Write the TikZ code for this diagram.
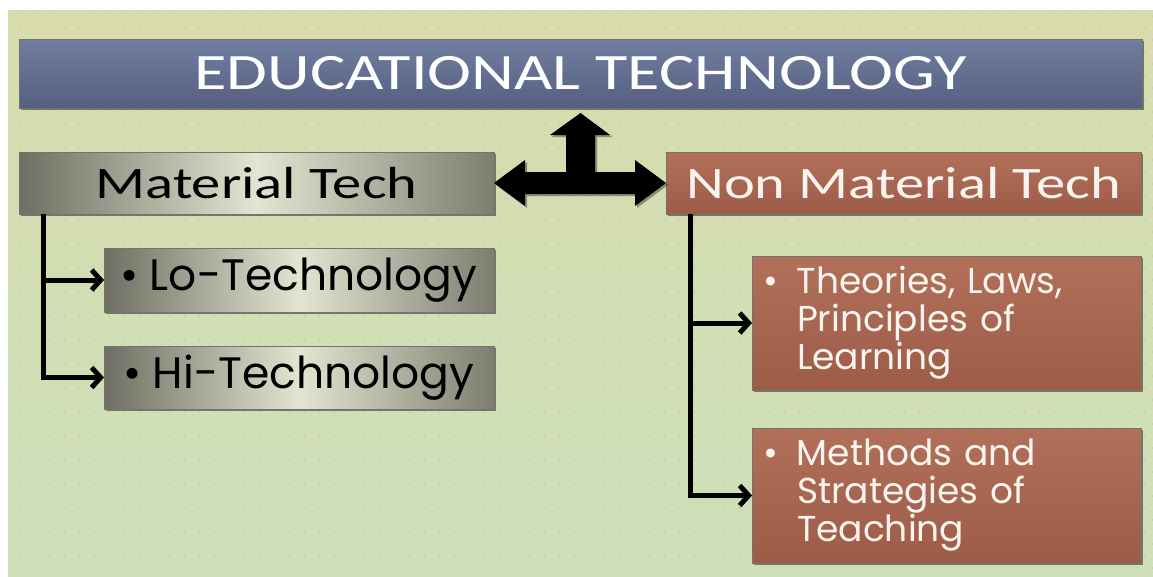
\documentclass[tikz,border=0pt]{standalone}
\usepackage{fontspec}
\newfontfamily\carl[FakeStretch=1.3]{Carlito}
\newfontfamily\popp{Poppins}
\usetikzlibrary{arrows.meta,shadows,calc}
\definecolor{bgtop}{RGB}{216,219,172}
\definecolor{bgbot}{RGB}{205,224,186}
\definecolor{dotc}{RGB}{194,199,160}
\definecolor{titletop}{RGB}{114,126,160}
\definecolor{titlebot}{RGB}{84,95,130}
\definecolor{grayL}{RGB}{110,111,98}
\definecolor{grayM}{RGB}{228,228,210}
\definecolor{grayR}{RGB}{126,126,112}
\definecolor{brownT}{RGB}{178,112,90}
\definecolor{brownB}{RGB}{156,92,72}
\definecolor{txtlight}{RGB}{250,244,238}
\begin{document}
\begin{tikzpicture}[x=1pt,y=-1pt,
  box/.style={draw=black!55, line width=0.8pt, inner sep=0pt, outer sep=0pt,
    drop shadow={shadow xshift=2pt,shadow yshift=-2pt,opacity=0.45,fill=black}},
  titlebox/.style={box, top color=titletop, bottom color=titlebot, text=white,
    font=\carl\fontsize{51}{51}\selectfont},
  graybox/.style={box, left color=grayL, right color=grayR, middle color=grayM, text=black},
  brownbox/.style={box, top color=brownT, bottom color=brownB, text=txtlight},
  headtxt/.style={font=\carl\fontsize{45}{45}\selectfont},
  bultxt/.style={font=\popp\fontsize{44}{44}\selectfont},
  multitxt/.style={font=\popp\fontsize{36}{38}\selectfont, align=left, inner xsep=11pt},
  conn/.style={line width=5pt, -{Straight Barb[length=9pt,width=20pt]}},
  bigarrow/.style={fill=black, drop shadow={shadow xshift=2pt,shadow yshift=-2pt,opacity=0.35,fill=black}}
]
\useasboundingbox (0,0) rectangle (1153,576);
\fill[white] (0,0) rectangle (1153,576);
\shade[top color=bgtop,bottom color=bgbot] (8,10) rectangle (1153,576);
\foreach \j in {0,...,46} {
  \foreach \i in {0,...,76} {
    \fill[dotc] ({12+\i*15+mod(\j,2)*7.5},{16+\j*12}) circle (0.9);
  }
}

\node[titlebox, minimum width=1123pt, minimum height=69pt] (title) at (580.5,73.5) {EDUCATIONAL TECHNOLOGY};
\node[graybox, headtxt, minimum width=475pt, minimum height=62pt] (mat) at (256.5,183) {Material Tech};
\node[brownbox, headtxt, minimum width=475pt, minimum height=62pt] (nonmat) at (903.5,183) {Non Material Tech};
\node[graybox, bultxt, minimum width=390pt, minimum height=64pt] (lo) at (299,280) {\textbullet\hspace{11pt}Lo-Technology};
\node[graybox, bultxt, minimum width=390pt, minimum height=63pt] (hi) at (299,377.5) {\textbullet\hspace{11pt}Hi-Technology};
\node[brownbox, multitxt, minimum width=389pt, minimum height=134pt, text width=367pt] (th) at (946.5,323)
  {\makebox[34pt][l]{\textbullet}Theories, Laws,\\\hspace*{34pt}Principles of\\\hspace*{34pt}Learning};
\node[brownbox, multitxt, minimum width=389pt, minimum height=135pt, text width=367pt] (me) at (946.5,495.5)
  {\makebox[34pt][l]{\textbullet}Methods and\\\hspace*{34pt}Strategies of\\\hspace*{34pt}Teaching};

\draw[conn] ($(mat.south west)+(24,0)$) |- (lo.west);
\draw[conn] ($(mat.south west)+(24,0)$) |- (hi.west);
\draw[conn] ($(nonmat.south west)+(24,0)$) |- (th.west);
\draw[conn] ($(nonmat.south west)+(24,0)$) |- (me.west);

\coordinate (L) at (mat.east);
\coordinate (R) at (nonmat.west);
\coordinate (U) at ($(title.south)+(0,5)$);
\fill[bigarrow] (L) -- ($(L)+(31,-23)$) -- ($(L)+(31,-11)$) -- ($(U)+(-14.5,59)$)
  -- ($(U)+(-14.5,22)$) -- ($(U)+(-30.5,22)$) -- (U) -- ($(U)+(29.5,22)$)
  -- ($(U)+(14.5,22)$) -- ($(U)+(14.5,59)$) -- ($(R)+(-31,-11)$) -- ($(R)+(-31,-23)$)
  -- (R) -- ($(R)+(-31,23)$) -- ($(R)+(-31,11)$) -- ($(L)+(31,11)$) -- ($(L)+(31,23)$) -- cycle;
\end{tikzpicture}
\end{document}
